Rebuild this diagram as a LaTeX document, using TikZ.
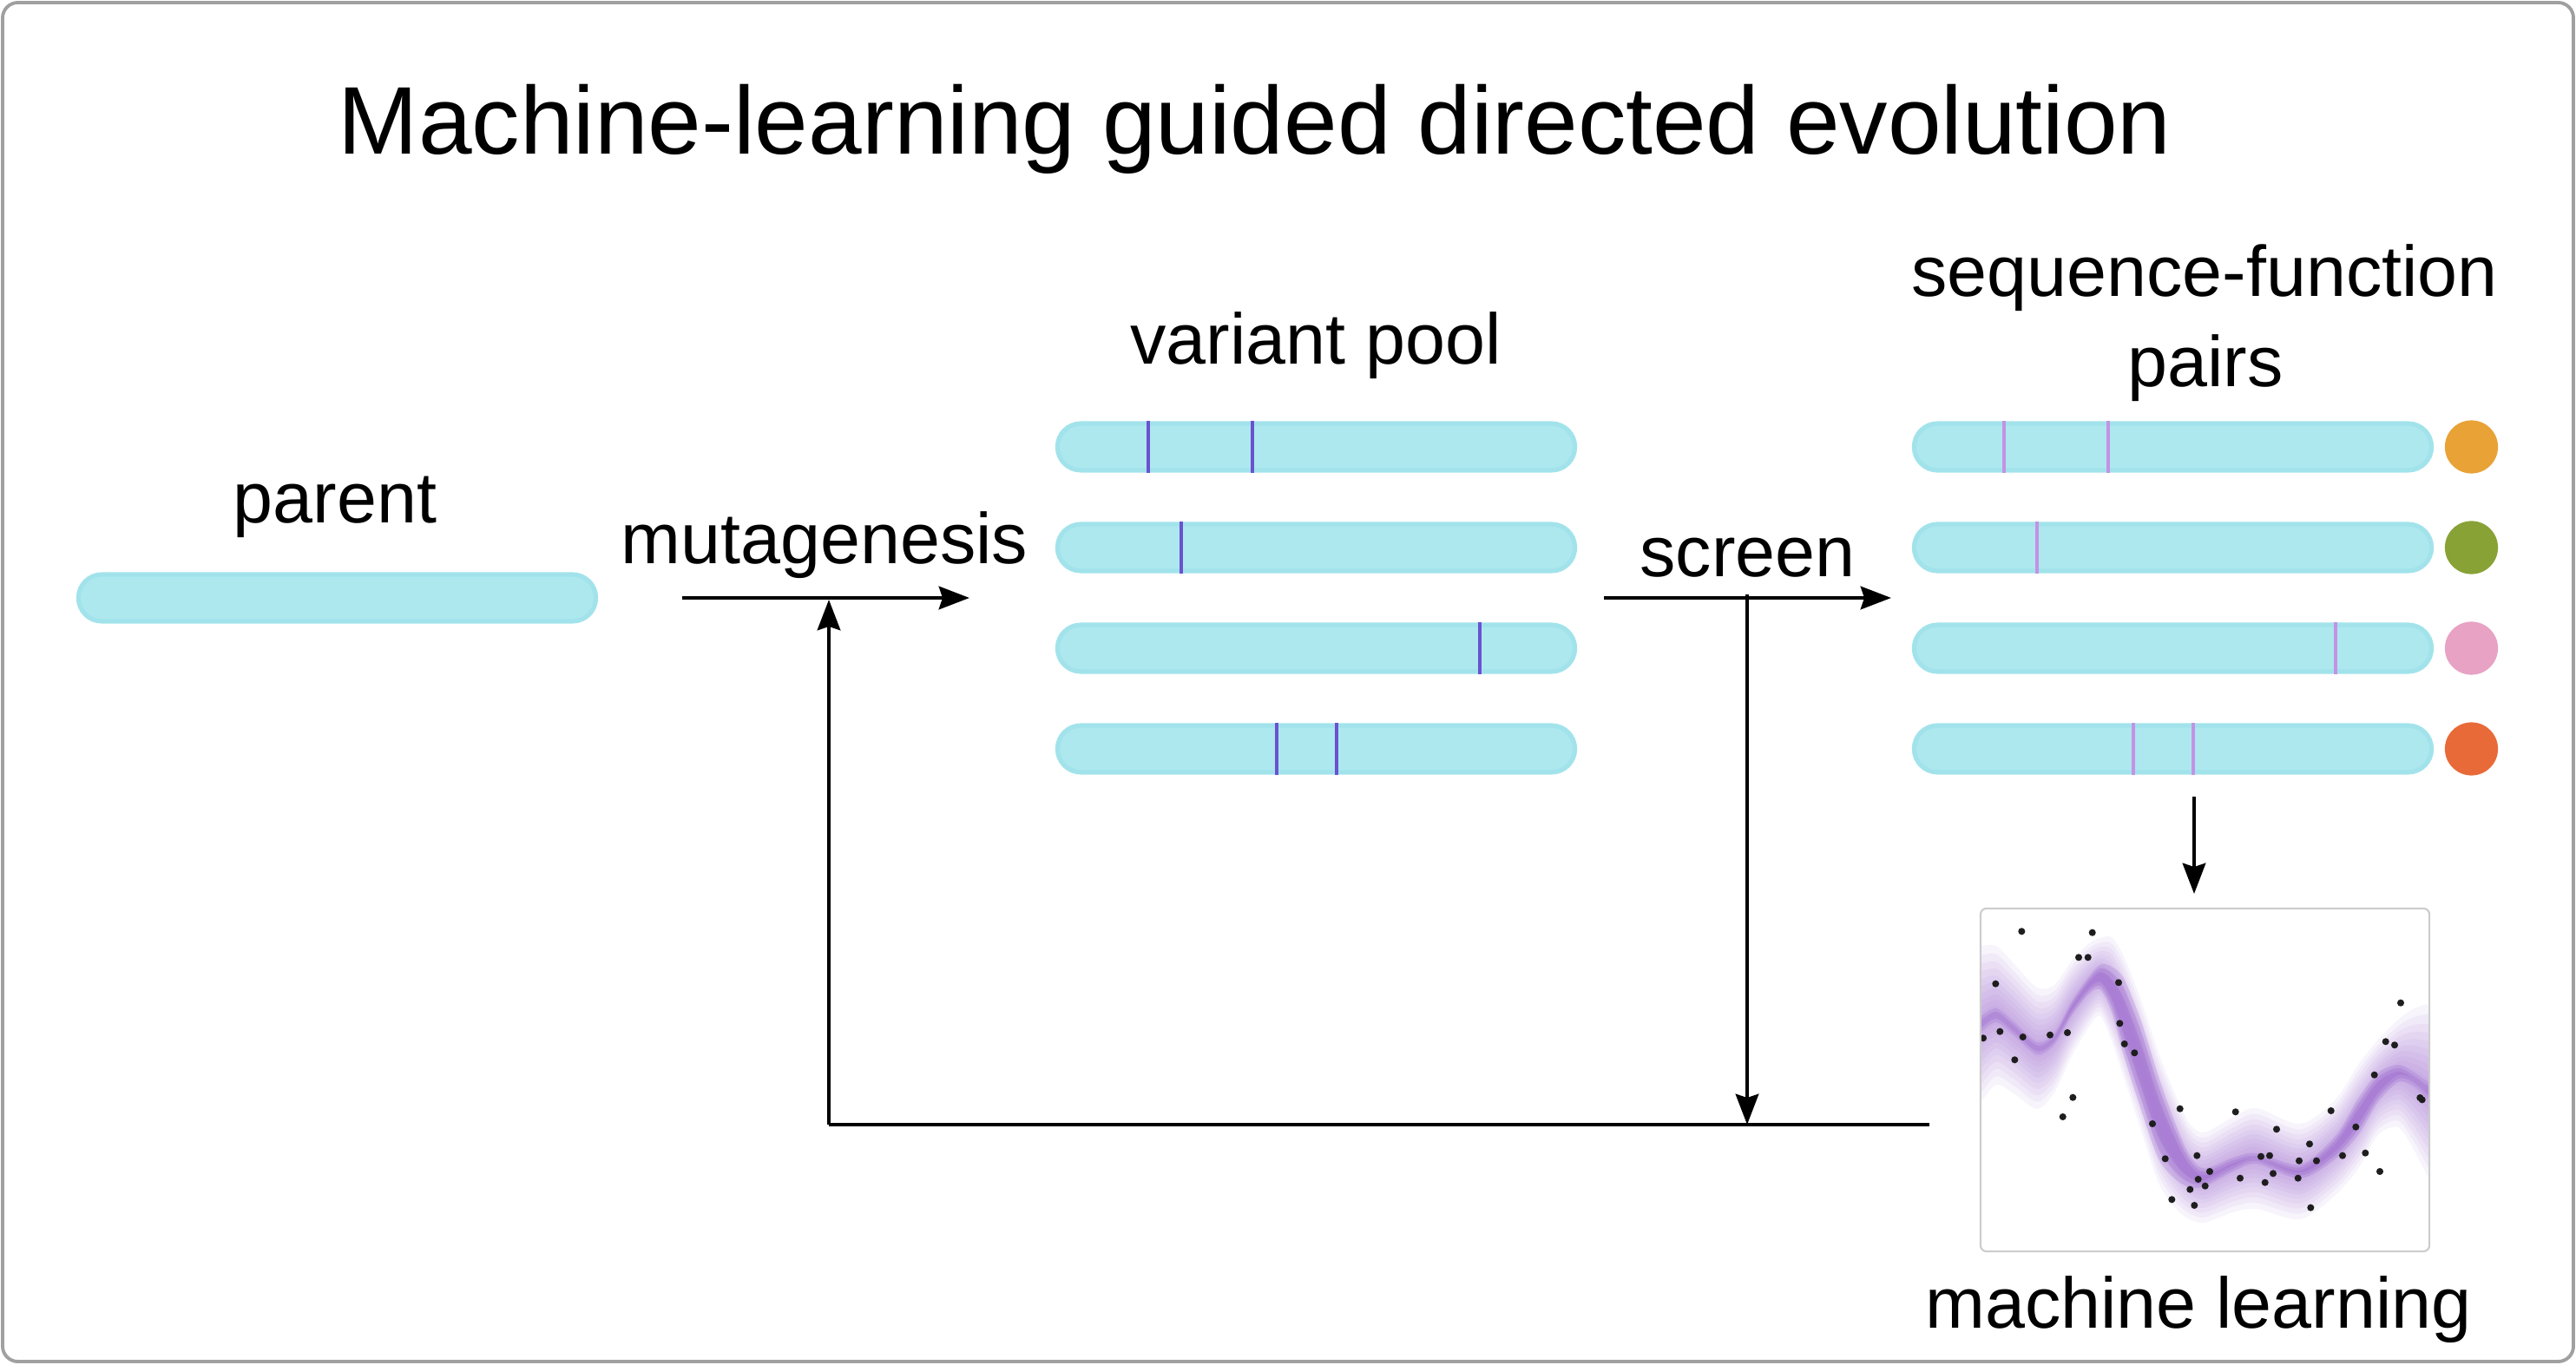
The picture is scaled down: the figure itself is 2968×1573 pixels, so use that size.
\documentclass[tikz,border=0pt]{standalone}
\usepackage{fontspec}
\setmainfont{Liberation Sans}
\usetikzlibrary{arrows.meta,calc}
\definecolor{barfill}{HTML}{ADE8EE}
\definecolor{baredge}{HTML}{A2E3EB}
\definecolor{mutdark}{HTML}{6A52D0}
\definecolor{mutlight}{HTML}{C492E4}
\definecolor{scoreA}{HTML}{E8A236}
\definecolor{scoreB}{HTML}{88A236}
\definecolor{scoreC}{HTML}{E7A2C4}
\definecolor{scoreD}{HTML}{E86A38}
\definecolor{gpband}{HTML}{9966CC}
\definecolor{outerframe}{HTML}{A0A0A0}
\definecolor{plotframe}{HTML}{CCCCCC}
\definecolor{dotcol}{HTML}{1E1E1E}

\def\gpdata{2270/1185/95/0,2282/1180/90/0,2300/1170/80/0,2320/1185/75/0,2347/1208/70/0,2367/1197/62/0,2387/1162/55/2,2407/1135/48/4,2420/1126/45/8,2433/1140/60/16,2447/1172/70/30,2467/1228/75/35,2487/1288/75/32,2507/1328/65/20,2523/1350/55/10,2540/1357/52/4,2573/1342/55/2,2600/1335/58/0,2650/1350/55/2,2690/1323/55/6,2717/1287/60/12,2740/1253/55/9,2763/1237/62/3,2780/1243/80/0,2798/1257/100/0,2810/1265/105/0}
\newcommand\gplayer[3]{%
  \gdef\gpup{}\gdef\gplo{}%
  \foreach \px/\pc/\pw/\pk in \gpdata {%
    \pgfmathsetmacro\gpyu{\pc-#1*\pw-#2*\pk}%
    \pgfmathsetmacro\gpyl{\pc+#1*\pw+#2*\pk}%
    \xdef\gpup{\gpup (\px,\gpyu)}%
    \xdef\gplo{(\px,\gpyl) \gplo}%
  }%
  \edef\gpcmd{\noexpand\fill[gpband, opacity=#3] plot[smooth] coordinates {\gpup} -- plot[smooth] coordinates {\gplo} -- cycle;}%
  \gpcmd
}

\begin{document}
\begin{tikzpicture}[x=0.01cm,y=-0.01cm,
  seqbar/.style={draw=baredge, line width=1.5pt, fill=barfill, rounded corners=7.6pt,
    minimum width=169.5pt, minimum height=15.3pt, inner sep=0pt},
  score/.style={circle, minimum size=17.4pt, inner sep=0pt, draw=none},
  mutd/.style={draw=mutdark, line width=1.4pt},
  mutl/.style={draw=mutlight, line width=1.4pt},
  lbl/.style={font=\fontsize{23.5pt}{28pt}\selectfont, inner sep=0pt, anchor=base},
  ttl/.style={font=\fontsize{31.5pt}{38pt}\selectfont, inner sep=0pt, anchor=base},
  conn/.style={line width=1.3pt},
  arr/.style={line width=1.3pt, -{Stealth[length=10pt, width=7.5pt, inset=1.2pt]}}
]
\useasboundingbox (0,0) rectangle (2968,1573);
\draw[outerframe, line width=1.1pt, rounded corners=5pt] (3,3) rectangle (2965,1569);

% title
\node[ttl] (title) at (1446,178) {Machine-learning guided directed evolution};

% parent
\node[lbl] (tparent) at (386,603) {parent};
\node[seqbar] (par) at (388.5,689) {};

% mutagenesis
\node[lbl] (tmut) at (950,650) {mutagenesis};
\coordinate (mutS) at (786,689);
\coordinate (mutE) at (1117,689);
\draw[arr] (mutS) -- (mutE);

% variant pool
\node[lbl] (tvar) at (1516,420) {variant pool};
\node[seqbar] (v1) at (1516.5,515) {};
\node[seqbar] (v2) at (1516.5,631) {};
\node[seqbar] (v3) at (1516.5,747) {};
\node[seqbar] (v4) at (1516.5,863) {};
\draw[mutd] (1323,485) -- (1323,545);
\draw[mutd] (1443,485) -- (1443,545);
\draw[mutd] (1361,601) -- (1361,661);
\draw[mutd] (1705,717) -- (1705,777);
\draw[mutd] (1471,833) -- (1471,893);
\draw[mutd] (1540,833) -- (1540,893);

% screen
\node[lbl] (tscr) at (2013.5,665) {screen};
\coordinate (scrS) at (1848,689);
\coordinate (scrE) at (2179,689);
\draw[arr] (scrS) -- (scrE);

% sequence-function pairs
\node[lbl] (tsf) at (2540,341.6) {sequence-function};
\node[lbl] (tpairs) at (2541,445.7) {pairs};
\node[seqbar] (s1) at (2503.5,515) {};
\node[seqbar] (s2) at (2503.5,631) {};
\node[seqbar] (s3) at (2503.5,747) {};
\node[seqbar] (s4) at (2503.5,863) {};
\draw[mutl] (2309,485) -- (2309,545);
\draw[mutl] (2429,485) -- (2429,545);
\draw[mutl] (2347,601) -- (2347,661);
\draw[mutl] (2691,717) -- (2691,777);
\draw[mutl] (2458,833) -- (2458,893);
\draw[mutl] (2527,833) -- (2527,893);
\node[score, fill=scoreA] (c1) at (2847.5,515) {};
\node[score, fill=scoreB] (c2) at (2847.5,631) {};
\node[score, fill=scoreC] (c3) at (2847.5,747) {};
\node[score, fill=scoreD] (c4) at (2847.5,863) {};

% arrow to ML
\coordinate (pa) at (2528,918);
\coordinate (pb) at (2528,1030);
\draw[arr] (pa) -- (pb);

% ML plot
\begin{scope}
  \clip (2283,1048) rectangle (2798,1441);
  \foreach \sc in {1,0.88,0.77,0.67,0.57,0.48,0.39,0.3,0.22,0.14}
    {\gplayer{\sc}{0}{0.075}}
  \gplayer{0.1}{1.25}{0.25}
  \gplayer{0.05}{1}{0.3}
  \gplayer{0}{0.7}{0.35}
  \foreach \dx/\dy in {2329.3/1073.3,2410.7/1074.7,2395/1103.3,2405.7/1103.3,2299.3/1133.7,2441/1132.3,2442.3/1179.3,2285/1196.3,2304.3/1188.7,2330.7/1195,2362/1192.7,2382/1190,2447.7/1203,2459.3/1213.3,2321.3/1221.3,2388.3/1264.7,2376.7/1287,2511.7/1277.7,2480/1295,2494.7/1335.3,2531.3/1331.7,2532.7/1359,2523.3/1370.7,2540.7/1366.7,2502.3/1382.3,2528.3/1389,2546/1350,2575.7/1281.3,2581/1357.7,2623/1301.3,2605/1332.7,2615/1331.7,2619/1352.3,2609.7/1362.7,2661/1318.3,2649/1337.7,2669/1337.7,2647.7/1357.7,2662.3/1391.7,2685.7/1280,2699/1331.7,2714.3/1298.7,2725.3/1328.7,2742/1350,2735.7/1238.7,2748.7/1200.3,2759/1204.3,2766/1155.7,2788.3/1265,2790.7/1267.3}
    {\fill[dotcol] (\dx,\dy) circle (1.15pt);}
\end{scope}
\node[draw=plotframe, line width=0.6pt, rounded corners=2pt, minimum width=147.1pt,
  minimum height=112.4pt, inner sep=0pt] (mlplot) at (2540.5,1244.5) {};
\node[lbl] (tml) at (2533,1530) {machine learning};

% feedback loop
\coordinate (fbR) at (2223,1296);
\coordinate (fbC) at (955,1296);
\coordinate (fbT) at (955,691);
\draw[conn] (fbR) -- (fbC);
\draw[arr] (fbC) -- (fbT);
\coordinate (dS) at (2013,685);
\coordinate (dE) at (2013,1296);
\draw[arr] (dS) -- (dE);
\end{tikzpicture}
\end{document}
